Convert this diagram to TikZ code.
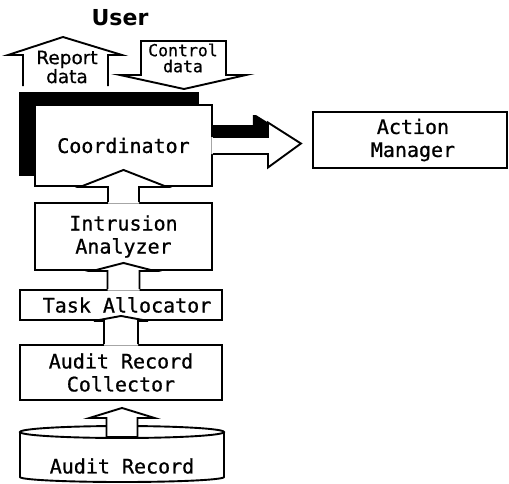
\documentclass[tikz,border=0pt]{standalone}
\usepackage{fontspec}
\setmainfont{DejaVu Sans}
\newfontfamily\monofont[FakeBold=0.8]{DejaVu Sans Mono}
\newfontfamily\repfont[FakeBold=0.6]{DejaVu Sans}
\usetikzlibrary{calc,backgrounds}

% vertical block arrow: #1 foot point, #2 head base point,
% #3 shaft half width, #4 head half width, #5 head height
\newcommand\upblock[5]{%
  \fill[white] ($(#1)+(-#3,1.5)$) -- ($(#2)+(-#3,0)$) -- ($(#2)+(-#4,0)$)
    -- ($(#2)+(0,-#5)$) -- ($(#2)+(#4,0)$) -- ($(#2)+(#3,0)$)
    -- ($(#1)+(#3,1.5)$) -- cycle;
  \draw ($(#1)+(-#3,0)$) -- ($(#2)+(-#3,0)$) -- ($(#2)+(-#4,0)$)
    -- ($(#2)+(0,-#5)$) -- ($(#2)+(#4,0)$) -- ($(#2)+(#3,0)$)
    -- ($(#1)+(#3,0)$);
}

\begin{document}
\begin{tikzpicture}[x=1pt, y=-1pt,
  box/.style={draw, fill=white, rectangle, inner sep=0pt, align=center,
    font=\monofont\fontsize{20}{23}\selectfont},
  lbl/.style={inner sep=0pt, align=center,
    font=\monofont\fontsize{20}{23}\selectfont},
  smalllbl/.style={inner sep=0pt, align=center,
    font=\monofont\fontsize{16.5}{16}\selectfont},
  replbl/.style={inner sep=0pt, align=center,
    font=\repfont\fontsize{18.5}{17}\selectfont},
  shadow/.style={fill=black, draw=none}]
\useasboundingbox (0,0) rectangle (509,483);

\begin{scope}[line width=1.9pt, line join=miter]
% user side
\node[font=\bfseries\fontsize{22}{22}\selectfont, inner sep=0pt] (user) at (120,18) {User};

% report data (upward block arrow)
\draw[fill=white] (23,86) -- (23,55) -- (8,55) -- (63,37) -- (122,55)
  -- (108,55) -- (108,86);
\node[replbl] (report) at (67,67) {Report\\data};

% control data (downward block arrow)
\draw[fill=white] (141,75) -- (141,41) -- (226,41) -- (226,75) -- (246,75)
  -- (184,89) -- (120,75) -- cycle;
\node[smalllbl] (control) at (183,58) {Control\\data};

% main boxes
\node[box, minimum width=177pt, minimum height=81pt] (coord) at (123.5,145.5) {\raisebox{-3.5pt}{Coordinator}};
\node[box, minimum width=177pt, minimum height=67pt] (intr) at (123.5,236.5) {Intrusion\\Analyzer};
\node[box, minimum width=202pt, minimum height=30pt] (task) at (121,305) {\hspace*{12pt}Task Allocator};
\node[box, minimum width=202pt, minimum height=55pt] (coll) at (121,372.5) {Audit Record\\Collector};
\node[box, minimum width=194pt, minimum height=56pt] (action) at (410,140) {\hspace*{6pt}Action\\\hspace*{6pt}Manager};

% coordinator -> action manager, with its heavy shadow
\fill[shadow] ($(coord.east)+(0,-20.5)$) -- ($(coord.east)+(40,-20.5)$)
  -- ($(coord.east)+(40,-30.5)$) -- ($(coord.east)+(43,-30.5)$)
  -- ($(coord.east)+(55,-23)$) -- ($(coord.east)+(55,-8.5)$)
  -- ($(coord.east)+(0,-8.5)$) -- cycle;
\fill[white] ($(coord.east)+(-1.5,-8.5)$) -- ($(coord.east)+(55,-8.5)$)
  -- ($(coord.east)+(55,-23)$) -- ($(coord.east)+(88,-2)$)
  -- ($(coord.east)+(55,22)$) -- ($(coord.east)+(55,8.5)$)
  -- ($(coord.east)+(-1.5,8.5)$) -- cycle;
\draw ($(coord.east)+(0,-8.5)$) -- ($(coord.east)+(55,-8.5)$)
  -- ($(coord.east)+(55,-23)$) -- ($(coord.east)+(88,-2)$)
  -- ($(coord.east)+(55,22)$) -- ($(coord.east)+(55,8.5)$)
  -- ($(coord.east)+(0,8.5)$);

% upward flow between the stacked boxes
\upblock{intr.north}{coord.south}{15.5}{43.5}{17}
\upblock{intr.south |- task.north}{intr.south}{16}{31}{8}
\upblock{coll.north}{coll.north |- task.south}{17}{27}{5}

% audit record store
\draw (20,432) -- (20,477) arc[start angle=180, end angle=0, x radius=102, y radius=5] -- (224,432);
\draw (122,432) ellipse[x radius=102, y radius=6];
\node[lbl] (audit) at (122,466) {Audit Record};

% audit record -> collector
\coordinate (cyltop) at (122,432);
\coordinate (ahead) at ($(coll.south)+(1,17)$);
\draw[fill=white] ($(cyltop)+(-15.5,5)$) -- ($(ahead)+(-15.5,0)$) -- ($(ahead)+(-32.5,0)$)
  -- ($(ahead)+(0,-10)$) -- ($(ahead)+(32.5,0)$) -- ($(ahead)+(15.5,0)$)
  -- ($(cyltop)+(15.5,5)$) -- cycle;
\end{scope}

% heavy shadow behind the coordinator
\begin{pgfonlayer}{background}
  \fill[shadow] ($(coord.north west)+(-15,-12)$) rectangle ($(coord.south east)+(-14,-11)$);
\end{pgfonlayer}
\end{tikzpicture}
\end{document}
